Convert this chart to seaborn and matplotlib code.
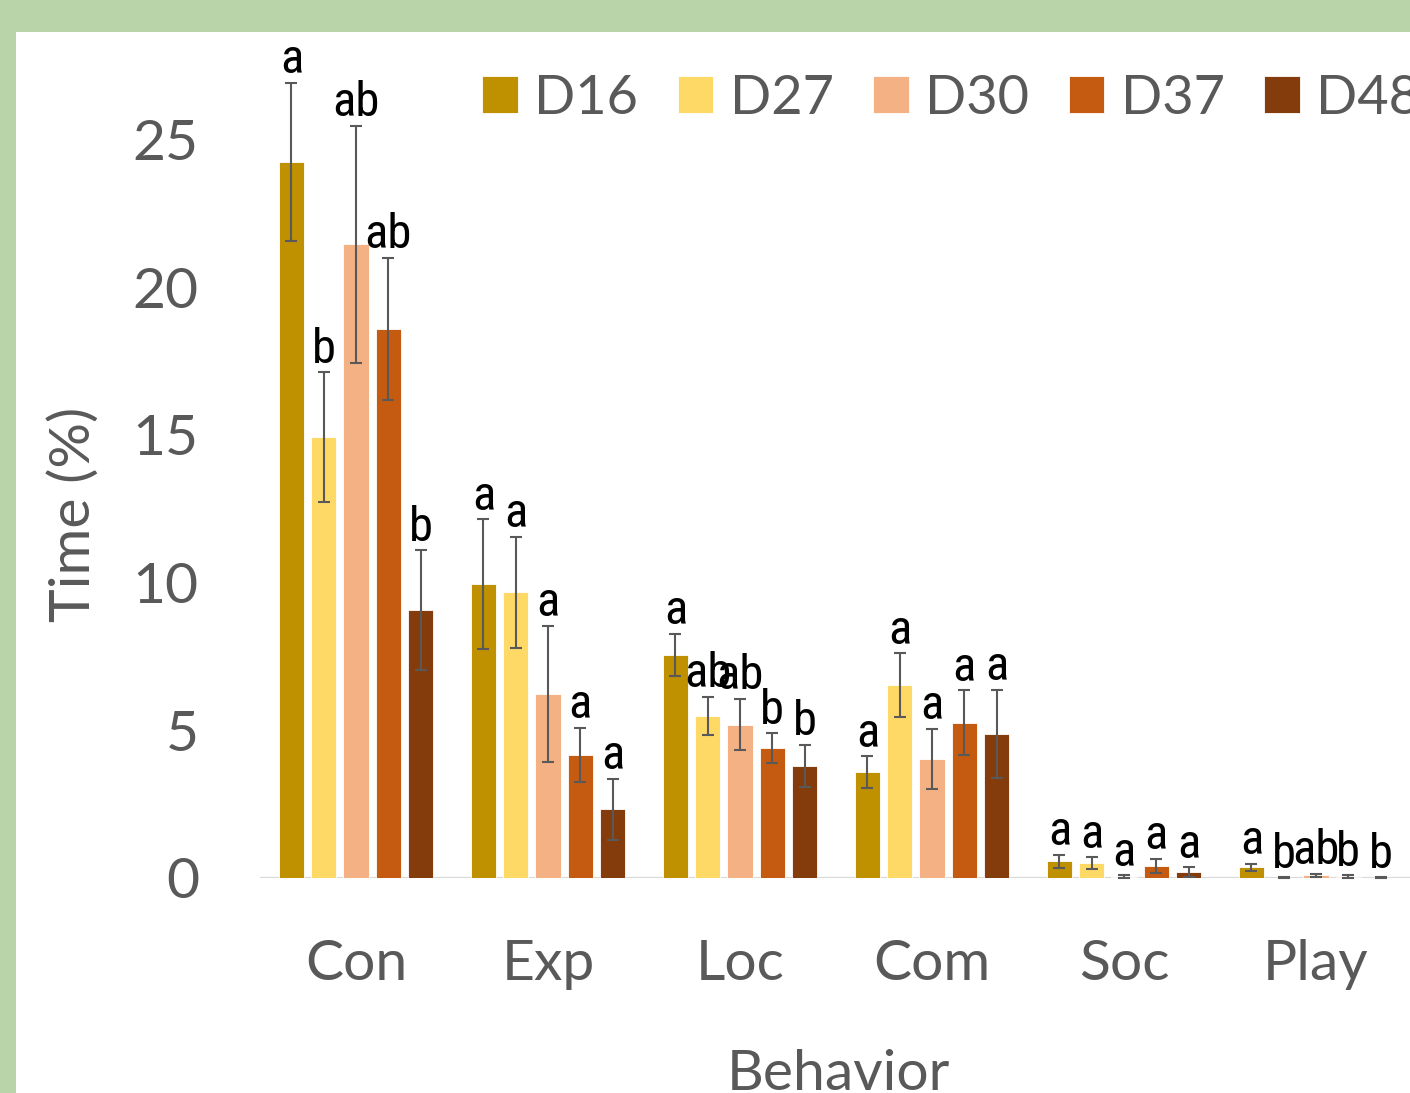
import matplotlib
matplotlib.use("Agg")
import matplotlib.pyplot as plt
from matplotlib.patches import Rectangle
import numpy as np
import pandas as pd
import seaborn as sns

# Mean time budget (%) per behaviour and standard errors, one list per day
behaviors = ["Con", "Exp", "Loc", "Com", "Soc", "Play"]
days = ["D16", "D27", "D30", "D37", "D48"]

D16 = [24.25, 9.94, 7.55, 3.58, 0.56, 0.37]
D27 = [14.93, 9.67, 5.48, 6.52, 0.50, 0.01]
D30 = [21.45, 6.23, 5.19, 4.03, 0.05, 0.09]
D37 = [18.58, 4.17, 4.40, 5.26, 0.41, 0.05]
D48 = [9.07, 2.33, 3.79, 4.89, 0.19, 0.01]

D16_se = [2.67, 2.20, 0.71, 0.54, 0.23, 0.12]
D27_se = [2.19, 1.88, 0.65, 1.08, 0.20, 0.01]
D30_se = [4.00, 2.31, 0.87, 1.02, 0.04, 0.06]
D37_se = [2.41, 0.91, 0.50, 1.09, 0.25, 0.04]
D48_se = [2.02, 1.03, 0.71, 1.49, 0.17, 0.01]

# Significance letters (same letter = no difference between days)
D16_sig = ["a", "a", "a", "a", "a", "a"]
D27_sig = ["b", "a", "ab", "a", "a", "b"]
D30_sig = ["ab", "a", "ab", "a", "a", "ab"]
D37_sig = ["ab", "a", "b", "a", "a", "b"]
D48_sig = ["b", "a", "b", "a", "a", "b"]

y_ticks = [0, 5, 10, 15, 20, 25]
colors = ["#BF9000", "#FFD966", "#F4B183", "#C55A11", "#843C0C"]

means = [D16, D27, D30, D37, D48]
errors = [D16_se, D27_se, D30_se, D37_se, D48_se]
letters = [D16_sig, D27_sig, D30_sig, D37_sig, D48_sig]

df = pd.DataFrame(
    [(b, d, m[i]) for d, m in zip(days, means) for i, b in enumerate(behaviors)],
    columns=["Behavior", "Day", "Time"],
)

sns.set_theme(style="white")
plt.rcParams["font.family"] = ["Lato", "DejaVu Sans"]

W, H = 1410, 1093
fig = plt.figure(figsize=(W / 100, H / 100), dpi=100, facecolor="#B9D4A9")
# white chart area inside the green frame
fig.patches.append(Rectangle((16 / W, 0), 1 - 16 / W, 1 - 32 / H,
                             transform=fig.transFigure, facecolor="white",
                             edgecolor="none", zorder=-1))

ax_left, ax_right, ax_bottom, ax_top = 260, 1412, 878, 40
ax = fig.add_axes([ax_left / W, 1 - ax_bottom / H,
                   (ax_right - ax_left) / W, (ax_bottom - ax_top) / H])
ax.set_facecolor("none")

sns.barplot(data=df, x="Behavior", y="Time", hue="Day", order=behaviors,
            hue_order=days, palette=colors, errorbar=None, width=0.84,
            gap=0.215, edgecolor="white", linewidth=0.6, legend=False,
            saturation=1, ax=ax, zorder=2)

ax.set_ylim(0, (ax_bottom - ax_top) / 29.54)
ax.set_xlim(-0.5, len(behaviors) - 0.5)
ax.set_yticks(y_ticks)
ax.axhline(0, color="#D9D9D9", lw=1.6, zorder=1)
for s in ax.spines.values():
    s.set_visible(False)
ax.tick_params(axis="both", length=0, labelsize=41, colors="#595959")
ax.tick_params(axis="y", pad=44)
ax.tick_params(axis="x", pad=44)
ax.set_xlabel("")
ax.set_ylabel("")

narrow = ["Liberation Sans Narrow", "Roboto Condensed", "DejaVu Sans Condensed",
          "Liberation Sans"]
for cont, err, sig in zip(ax.containers, errors, letters):
    xs = [b.get_x() + b.get_width() / 2 for b in cont]
    ys = [b.get_height() for b in cont]
    ax.errorbar(xs, ys, yerr=err, fmt="none", ecolor="#595959", elinewidth=1.5,
                capsize=4, capthick=1.5, zorder=3, clip_on=False)
    for x, y, e, t in zip(xs, ys, err, sig):
        ax.annotate(t, xy=(x, y + e), xytext=(0, 7), textcoords="offset points",
                    ha="center", va="baseline", fontsize=35, color="black",
                    family=narrow, fontstretch="condensed",
                    annotation_clip=False, zorder=4)

leg = ax.legend(ax.containers, days, loc="center left",
                bbox_to_anchor=(482 / W, 1 - 98 / H),
                bbox_transform=fig.transFigure, ncol=5, frameon=False,
                fontsize=39, handlelength=0.66, handleheight=0.66,
                handletextpad=0.3, columnspacing=0.73, borderpad=0,
                borderaxespad=0)
for t in leg.get_texts():
    t.set_color("#595959")

fig.text(74 / W, 1 - 514 / H, "Time (%)", rotation=90, ha="center",
         va="center", fontsize=41, color="#595959")
fig.text(838 / W, 1 - 1090 / H, "Behavior", ha="center", va="baseline",
         fontsize=41, color="#595959")

fig.savefig("out.png", dpi=100, facecolor=fig.get_facecolor())
